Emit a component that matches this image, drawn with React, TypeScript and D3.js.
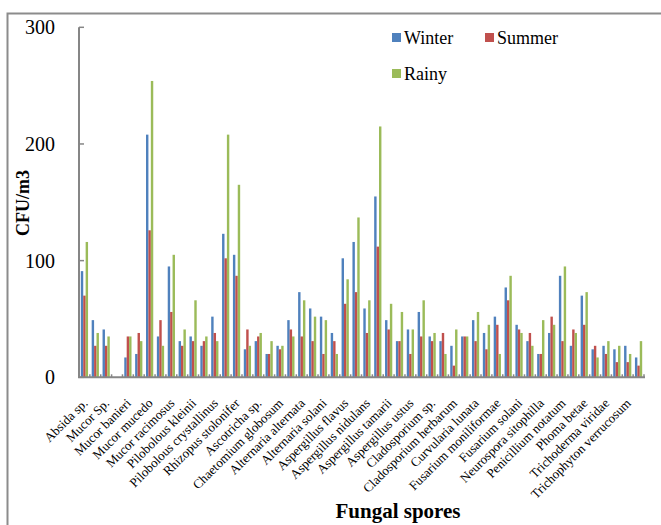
import React from 'react';
import * as d3 from 'd3';

// only every second category carries a visible label in the original
const labels = [
  'Absida sp.', 'Mucor Sp.', 'Mucor banieri', 'Mucor mucedo', 'Mucor racimosus',
  'Pilobolous kleinii', 'Pilobolous crystallinus', 'Rhizopus stolonifer', 'Ascotricha sp.',
  'Chaetomium globosum', 'Alternaria alternata', 'Alternaria solani', 'Aspergillus flavus',
  'Aspergillus nidulans', 'Aspergillus tamarii', 'Aspergillus ustus', 'Cladosporium sp.',
  'Cladosporium herbarum', 'Curvularia lunata', 'Fusarium moniliformae', 'Fusarium solani',
  'Neurospora sitophilla', 'Penicillium notatum', 'Phoma betae', 'Trichoderma viridae',
  'Trichophyton verrucosum'
];

const winter = [91, 49, 41, 0, 17, 20, 208, 35, 95, 31, 35, 27, 52, 123, 105, 24, 31, 20, 27, 49,
  73, 59, 52, 38, 102, 116, 59, 155, 49, 31, 41, 56, 35, 31, 27, 35, 49, 38, 52, 77, 45, 31, 20,
  38, 87, 27, 70, 24, 27, 24, 27, 17];
const summer = [70, 27, 27, 0, 35, 38, 126, 49, 56, 27, 31, 31, 38, 102, 87, 41, 35, 20, 24, 41,
  35, 31, 20, 31, 63, 73, 38, 112, 41, 31, 20, 35, 31, 38, 10, 35, 31, 24, 45, 66, 41, 38, 20,
  52, 31, 41, 45, 27, 20, 13, 13, 10];
const rainy = [116, 38, 35, 0, 35, 31, 254, 27, 105, 41, 66, 35, 31, 208, 165, 27, 38, 31, 27, 35,
  66, 52, 49, 20, 84, 137, 66, 215, 63, 56, 41, 66, 38, 20, 41, 35, 56, 45, 20, 87, 38, 27, 49,
  45, 95, 38, 73, 17, 31, 27, 20, 31];

const seriesNames = ['Winter', 'Summer', 'Rainy'];
const colours = ['#4f81bd', '#c0504d', '#9bbb59'];
const yTicks = [0, 100, 200, 300];

const tf = { fontFamily: 'Liberation Serif' };

export default function App() {
  const width = 661, height = 525;
  const left = 79, right = 644, top = 27.3, bottom = 377.3;
  const series = [winter, summer, rainy];
  const idx = d3.range(winter.length);

  const x = d3.scaleBand<number>().domain(idx).range([left, right]).paddingInner(0).paddingOuter(0);
  const barW = x.bandwidth() / 4.5;
  const y = d3.scaleLinear().domain([0, 300]).range([bottom, top]);

  const bars = idx.flatMap(i =>
    series.map((s, k) => {
      const bx = x(i)! + barW * 0.75 + k * barW;
      return <rect key={i + '-' + k} x={bx} y={y(s[i])} width={barW} height={bottom - y(s[i])} fill={colours[k]} />;
    })
  );

  const catTicks = d3.range(winter.length + 1).map(i => {
    const tx = left + i * x.step();
    return <line key={'t' + i} x1={tx} x2={tx} y1={bottom} y2={bottom - 3} stroke="#868686" strokeWidth={1.5} />;
  });

  const catLabels = labels.map((name, j) => {
    const cx = x(j * 2)! + x.bandwidth() / 2;
    return (
      <text key={name} transform={`translate(${cx + 4},${404}) rotate(-45)`} textAnchor="end"
        fontSize={13} style={tf} fill="#000">{name}</text>
    );
  });

  return (
    <svg width={width} height={height} style={{ position: 'absolute', left: 0, top: 0, background: '#fff' }}>
      <rect x={0} y={0} width={width} height={height} fill="#fff" />
      <path d={`M7.5,${height} V13.5 H${width}`} fill="none" stroke="#8c8c8c" strokeWidth={2} />

      {bars}

      <line x1={left} x2={left} y1={top} y2={bottom} stroke="#868686" strokeWidth={2} />
      {yTicks.map(t => (
        <g key={t}>
          <line x1={left} x2={left + 5} y1={y(t)} y2={y(t)} stroke="#868686" strokeWidth={1.5} />
          <text x={55} y={y(t)} dy="0.35em" textAnchor="end" fontSize={20} style={tf}>{t}</text>
        </g>
      ))}
      <line x1={left - 1} x2={right + 1} y1={bottom} y2={bottom} stroke="#868686" strokeWidth={2} />
      {catTicks}
      {catLabels}

      <text transform={`translate(29,203) rotate(-90)`} textAnchor="middle" fontSize={18}
        fontWeight="bold" style={tf}>CFU/m3</text>
      <text x={398} y={518} textAnchor="middle" fontSize={21} fontWeight="bold" style={tf}>Fungal spores</text>

      {seriesNames.map((n, k) => {
        const lx = k === 1 ? 485 : 392;
        const ly = k === 2 ? 80 : 44;
        return (
          <g key={n}>
            <rect x={lx} y={ly - 11} width={9} height={9} fill={colours[k]} />
            <text x={lx + 12} y={ly} fontSize={18} style={tf}>{n}</text>
          </g>
        );
      })}
    </svg>
  );
}
